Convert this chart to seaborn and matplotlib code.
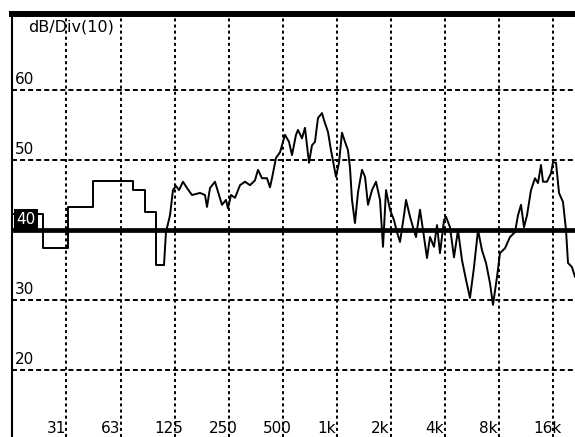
import numpy as np
import pandas as pd
import matplotlib
matplotlib.use("Agg")
import matplotlib.pyplot as plt
import matplotlib.transforms as mtransforms
import seaborn as sns

# Octave grid (Hz) and its labels
octave_hz = [31.25, 62.5, 125, 250, 500, 1000, 2000, 4000, 8000, 16000]
octave_labels = ["31", "63", "125", "250", "500", "1k", "2k", "4k", "8k", "16k"]

# Level grid (dB)
level_grid_db = [20, 30, 50, 60]
level_labels_db = [60, 50, 40, 30, 20]
reference_db = 40

# Low-frequency bins: band edges (Hz) and band levels (dB), drawn as steps
low_edges_hz = [15.55, 23.13, 31.85, 43.88, 73.3, 85.4, 98.4, 109.0]
low_levels_db = [42.3, 37.4, 43.3, 47.0, 45.7, 42.6, 35.0, 35.0]

# Upper spectrum (Hz, dB)
hf_freq_hz = [109.0, 111.8, 117.7, 122.3, 127.1, 132.1, 139.0, 146.3, 156.0, 172.9,
              184.3, 189.1, 196.5, 209.5, 220.5, 229.1, 241.2, 247.4, 257.2, 270.7,
              288.6, 307.7, 328.0, 349.7, 363.4, 382.6, 407.9, 423.8, 434.8, 457.7,
              481.8, 513.7, 540.7, 561.8, 591.4, 606.7, 638.7, 663.7, 698.5, 725.9,
              754.3, 783.9, 825.2, 846.6, 891.1, 926.0, 987.3, 1026, 1066, 1108,
              1151, 1181, 1212, 1259, 1309, 1378, 1432, 1488, 1566, 1648,
              1735, 1803, 1874, 1972, 2076, 2157, 2242, 2359, 2421, 2548,
              2648, 2752, 2896, 3010, 3168, 3292, 3465, 3601, 3742, 3939,
              4041, 4254, 4477, 4713, 4960, 5221, 5496, 5785, 6090, 6410,
              6747, 7102, 7379, 7768, 8072, 8606, 9176, 9782, 10166, 10565,
              10978, 11408, 12007, 12638, 13134, 13650, 14003, 14740, 15516, 15919,
              16542, 17190, 18094, 18803, 19291, 20306, 21104]
hf_level_db = [35.0, 39.7, 42.1, 45.7, 46.3, 45.7, 46.9, 46.0, 45.0, 45.3,
               45.0, 43.3, 46.0, 46.9, 45.0, 43.6, 44.3, 43.1, 45.0, 44.6,
               46.4, 46.9, 46.4, 47.1, 48.6, 47.4, 47.4, 46.1, 47.4, 50.3,
               51.1, 53.6, 52.6, 50.7, 53.6, 54.3, 53.1, 54.6, 49.6, 52.1,
               52.6, 56.0, 56.7, 55.7, 54.0, 51.4, 47.6, 49.6, 53.9, 52.6,
               51.4, 48.9, 44.3, 41.0, 45.4, 48.6, 47.6, 43.6, 45.7, 46.9,
               44.3, 37.6, 45.7, 42.9, 41.4, 39.7, 38.3, 42.1, 44.3, 41.9,
               40.4, 39.0, 42.9, 40.0, 36.0, 39.0, 37.6, 40.7, 36.7, 41.4,
               41.9, 40.4, 36.1, 40.0, 35.7, 32.9, 30.3, 34.7, 40.0, 37.1,
               35.3, 32.4, 29.3, 33.3, 36.7, 37.4, 39.0, 39.7, 42.1, 43.6,
               40.4, 42.1, 45.7, 47.4, 46.7, 49.3, 46.9, 46.9, 48.1, 49.7,
               49.6, 45.3, 44.0, 40.0, 35.3, 34.7, 33.3]

low_df = pd.DataFrame({"freq": low_edges_hz, "level": low_levels_db})
hf_df = pd.DataFrame({"freq": hf_freq_hz, "level": hf_level_db})

sns.set_theme(style="white")
plt.rcParams["font.family"] = ["DejaVu Sans"]
plt.rcParams["lines.scale_dashes"] = False

DPI = 100
fig = plt.figure(figsize=(5.75, 4.37), dpi=DPI)
ax = fig.add_axes([12 / 575, 0, 563 / 575, 423 / 437])
ax.set_xscale("log")
ax.set_xlim(15.55, 21100)
ax.set_ylim(10.43, 70.86)

# Dotted grid
for f in octave_hz:
    ax.axvline(f, color="black", lw=1.4, linestyle=(0, (2.2, 2.2)), zorder=1)
for lv in level_grid_db:
    ax.axhline(lv, color="black", lw=1.4, linestyle=(0, (3.6, 2.2)), zorder=1)
ax.axhline(reference_db, color="black", lw=3.4, zorder=2)

# Spectrum trace
sns.lineplot(data=low_df, x="freq", y="level", ax=ax, color="black", lw=1.4,
             drawstyle="steps-post", estimator=None, sort=False, zorder=3)
sns.lineplot(data=hf_df, x="freq", y="level", ax=ax, color="black", lw=1.4,
             estimator=None, sort=False, zorder=3)

# Frame: heavy top bar, thin left edge
for side in ("right", "bottom"):
    ax.spines[side].set_visible(False)
ax.spines["top"].set_linewidth(4.3)
ax.spines["left"].set_linewidth(1.5)
for side in ("top", "left"):
    ax.spines[side].set_color("black")
ax.xaxis.set_major_locator(matplotlib.ticker.NullLocator())
ax.xaxis.set_minor_locator(matplotlib.ticker.NullLocator())
ax.yaxis.set_major_locator(matplotlib.ticker.NullLocator())
ax.set_xlabel("")
ax.set_ylabel("")

fs = 11
# Level labels inside the plot, just above their grid line
ytrans = mtransforms.offset_copy(
    mtransforms.blended_transform_factory(ax.transAxes, ax.transData),
    fig=fig, x=0, y=4.5, units="points")
for lv in level_labels_db:
    if lv == reference_db:
        ax.text(0.008, lv, str(lv), transform=ytrans, fontsize=fs, color="white",
                ha="left", va="baseline", zorder=5,
                bbox=dict(boxstyle="square,pad=0.15", fc="black", ec="none"))
    else:
        ax.text(0.005, lv, str(lv), transform=ytrans, fontsize=fs, color="black",
                ha="left", va="baseline", zorder=5)

# Frequency labels along the bottom edge
xtrans = mtransforms.offset_copy(
    mtransforms.blended_transform_factory(ax.transData, ax.transAxes),
    fig=fig, x=-14.4, y=0, units="points")
for f, lab in zip(octave_hz, octave_labels):
    ax.text(f, 0.0095, lab, transform=xtrans, fontsize=fs, color="black",
            ha="left", va="baseline", zorder=5)

ax.text(0.028, 0.986, "dB/Div(10)", transform=ax.transAxes, fontsize=11.5,
        color="black", ha="left", va="top", zorder=5)

fig.savefig("out.png", dpi=DPI)
